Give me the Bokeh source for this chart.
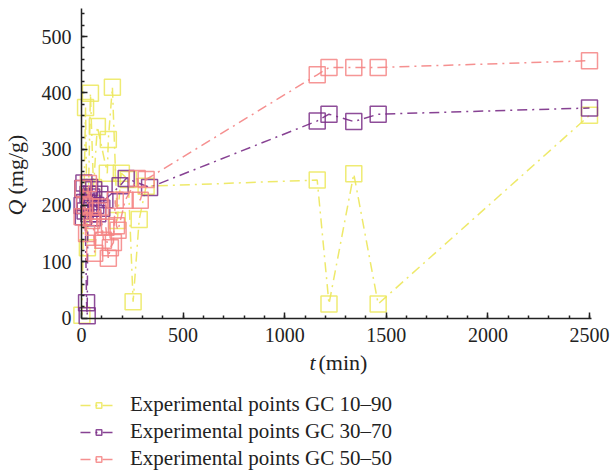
import math
from bokeh.plotting import figure
from bokeh.models import (FixedTicker, Legend, LegendItem, ColumnDataSource,
                          Range1d, Label)
from bokeh.embed import file_html
from bokeh.resources import INLINE

FONT = "Liberation Serif"

x_ticks = [0, 500, 1000, 1500, 2000, 2500]
x_minor = list(range(100, 2501, 100))
y_ticks = [0, 100, 200, 300, 400, 500]
y_minor = list(range(20, 550, 20))

series_names = ["Experimental points GC 10\u201390",
                "Experimental points GC 30\u201370",
                "Experimental points GC 50\u201350"]
series_colors = ["#ece75a", "#7a2e87", "#f48484"]

gc1090_t = [2, 20, 29, 44, 59, 78, 127, 132, 152, 176, 196, 230, 254, 284, 318,
            1160, 1218, 1340, 1460, 2500]
gc1090_q = [5, 374, 125, 399, 232, 340, 257, 317, 410, 173, 257, 246, 29, 175, 234,
            245, 25, 256, 25, 360]

gc3070_t = [3, 6, 9, 12, 15, 18, 25, 28, 32, 36, 40, 45, 50, 55, 60, 70, 80, 90,
            100, 115, 190, 220, 335,
            1160, 1218, 1340, 1460, 2500]
gc3070_q = [200, 230, 180, 240, 205, 190, 27, 4, 220, 185, 232, 195, 215, 178, 228,
            200, 185, 220, 195, 210, 235, 248, 232,
            350, 362, 349, 362, 373]

gc5050_t = [3, 8, 15, 25, 34, 44, 50, 59, 65, 80, 93, 108, 120, 132, 142, 157, 166,
            172, 180, 215, 274, 289, 318,
            1160, 1218, 1340, 1460, 2500]
gc5050_q = [180, 230, 200, 150, 239, 197, 173, 161, 115, 190, 197, 138, 161, 106, 125,
            134, 209, 164, 156, 209, 248, 209, 246,
            432, 445, 445, 445, 457]

# The frame covers the whole canvas; axes are pinned at t = 0 and Q = 0.
W, H = 613, 472
X0_PX, Y0_PX = 81.0, 317.5          # where t=0 / Q=0 sit on the canvas
X_PER_PX = 2500 / 508.0             # minutes per pixel
Y_PER_PX = 500 / 281.5              # mg/g per pixel

p = figure(width=W, height=H, output_backend="svg", toolbar_location=None,
           x_range=Range1d(-X0_PX * X_PER_PX, (W - X0_PX) * X_PER_PX),
           y_range=Range1d(-(H - Y0_PX) * Y_PER_PX, Y0_PX * Y_PER_PX),
           min_border=0, min_border_left=0, min_border_right=0,
           min_border_top=0, min_border_bottom=0)
p.xgrid.visible = False
p.ygrid.visible = False
p.outline_line_color = None
p.background_fill_color = "white"
p.border_fill_color = "white"

for ax, ticks, minor, bnd in ((p.xaxis[0], x_ticks, x_minor, (0, 2510)),
                              (p.yaxis[0], y_ticks, y_minor, (0, 550))):
    ax.fixed_location = 0
    ax.bounds = bnd
    ax.ticker = FixedTicker(ticks=ticks, minor_ticks=minor)
    ax.axis_line_color = "#222222"
    ax.axis_line_width = 1.5
    ax.major_tick_line_color = "#222222"
    ax.minor_tick_line_color = "#222222"
    ax.major_tick_line_width = 1.5
    ax.minor_tick_line_width = 1.5
    ax.major_tick_in = 6
    ax.major_tick_out = 0
    ax.minor_tick_in = 3
    ax.minor_tick_out = 0
    ax.major_label_text_font = FONT
    ax.major_label_text_font_size = "20px"
    ax.major_label_text_color = "#222222"
    ax.major_label_standoff = 10
    ax.axis_label = None

items = []
data = [(gc1090_t, gc1090_q), (gc3070_t, gc3070_q), (gc5050_t, gc5050_q)]
for (t, q), name, col in zip(data, series_names, series_colors):
    src = ColumnDataSource(dict(t=t, q=q))
    lr = p.line("t", "q", source=src, line_color=col, line_width=1.5,
                line_dash="10 5 2 5", line_alpha=0.9)
    sr = p.scatter("t", "q", source=src, marker="square", size=16,
                   fill_color=None, line_color=col, line_width=1.5, line_alpha=0.85)
    items.append(LegendItem(label=name, renderers=[lr, sr]))

# location = bottom-left corner of the legend, canvas pixels from bottom-left
legend = Legend(items=items, location=(80, 1), orientation="vertical",
                label_text_font=FONT, label_text_font_size="21px",
                label_text_color="#222222",
                glyph_width=37, glyph_height=14, label_standoff=13,
                spacing=2, padding=0, margin=0,
                border_line_color=None, background_fill_alpha=0)
p.add_layout(legend, "center")

# axis titles (italic variable + roman unit), canvas pixels from bottom-left
p.add_layout(Label(x=309, y=110, x_units="screen", y_units="screen", text="t",
                   text_font=FONT, text_font_style="italic", text_font_size="22px",
                   text_color="#222222", text_align="left", text_baseline="middle"))
p.add_layout(Label(x=318, y=110, x_units="screen", y_units="screen", text="(min)",
                   text_font=FONT, text_font_size="22px", text_color="#222222",
                   text_align="left", text_baseline="middle"))
p.add_layout(Label(x=15, y=257, x_units="screen", y_units="screen", text="Q",
                   angle=math.pi / 2,
                   text_font=FONT, text_font_style="italic", text_font_size="22px",
                   text_color="#222222", text_align="left", text_baseline="middle"))
p.add_layout(Label(x=15, y=278, x_units="screen", y_units="screen", text="(mg/g)",
                   angle=math.pi / 2,
                   text_font=FONT, text_font_size="22px", text_color="#222222",
                   text_align="left", text_baseline="middle"))

open("out.html", "w").write(file_html(p, INLINE))
